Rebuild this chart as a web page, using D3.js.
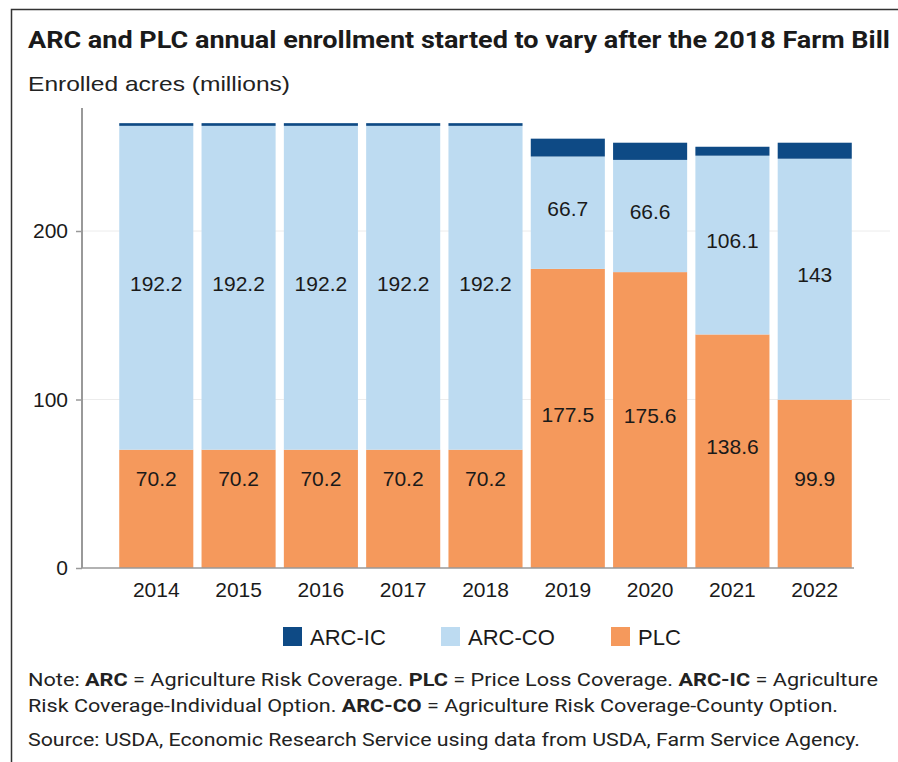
<!DOCTYPE html>
<html lang="en">
<head>
    <meta charset="UTF-8">
    <title>ARC and PLC annual enrollment</title>
    <style>
        body { margin: 0; background: #fff; }
        svg { display: block; font-family: "Liberation Sans", Arial, sans-serif; }
        .narrow { font-family: "Liberation Sans Narrow", "Roboto", "Liberation Sans", sans-serif; }
    </style>
</head>
<body>
<div id="chart"></div>
<script src="https://d3js.org/d3.v7.min.js"></script>
<script>
    // data (millions of acres)
    const years = ["2014", "2015", "2016", "2017", "2018", "2019", "2020", "2021", "2022"];
    const plc   = [70.2, 70.2, 70.2, 70.2, 70.2, 177.5, 175.6, 138.6, 99.9];
    const arcCo = [192.2, 192.2, 192.2, 192.2, 192.2, 66.7, 66.6, 106.1, 143];
    const arcIc = [1.6, 1.6, 1.6, 1.6, 1.6, 10.6, 10.2, 5.3, 9.5];
    const yTicks = [0, 100, 200];
    const seriesKeys = ["PLC", "ARC-CO", "ARC-IC"];
    const legendKeys = ["ARC-IC", "ARC-CO", "PLC"];

    const colors = {"ARC-IC": "#0e4a85", "ARC-CO": "#bddbf1", "PLC": "#f5995c"};

    const rows = years.map((yr, i) => ({year: yr, "PLC": plc[i], "ARC-CO": arcCo[i], "ARC-IC": arcIc[i]}));

    const W = 898, H = 762;
    const svg = d3.select("#chart").append("svg")
        .attr("width", W)
        .attr("height", H);

    // frame (left + top edge of the card)
    svg.append("path")
        .attr("d", "M11.5," + H + "V9.5H" + W)
        .attr("fill", "none")
        .attr("stroke", "#333")
        .attr("stroke-width", 1.5);

    svg.append("text")
        .attr("class", "narrow")
        .attr("x", 28).attr("y", 48)
        .attr("font-size", 24).attr("font-weight", "bold")
        .attr("fill", "#1a1a1a")
        .attr("textLength", 862).attr("lengthAdjust", "spacingAndGlyphs")
        .text("ARC and PLC annual enrollment started to vary after the 2018 Farm Bill");

    svg.append("text")
        .attr("x", 28).attr("y", 91)
        .attr("font-size", 21)
        .attr("fill", "#222")
        .attr("textLength", 262).attr("lengthAdjust", "spacingAndGlyphs")
        .text("Enrolled acres (millions)");

    const x = d3.scaleBand().domain(years).range([111, 860]).padding(0.1);
    const y = d3.scaleLinear().domain([0, 273]).range([568, 108]);

    // gridlines
    svg.append("g")
        .selectAll("line")
        .data(yTicks.filter(d => d > 0))
        .join("line")
        .attr("x1", 82).attr("x2", 890)
        .attr("y1", d => y(d)).attr("y2", d => y(d))
        .attr("stroke", "#ececec").attr("stroke-width", 1);

    const stack = d3.stack().keys(seriesKeys);
    const layers = stack(rows);

    const bars = svg.append("g");
    layers.forEach(layer => {
        bars.append("g")
            .attr("fill", colors[layer.key])
            .selectAll("rect")
            .data(layer)
            .join("rect")
            .attr("x", d => x(d.data.year))
            .attr("width", x.bandwidth())
            .attr("y", d => y(d[1]))
            .attr("height", d => y(d[0]) - y(d[1]));
    });

    // value labels for PLC and ARC-CO
    const minLabel = 53; // keep low labels off the baseline
    layers.filter(l => l.key !== "ARC-IC").forEach(layer => {
        svg.append("g")
            .selectAll("text")
            .data(layer)
            .join("text")
            .attr("x", d => x(d.data.year) + x.bandwidth() / 2)
            .attr("y", d => {
                let mid = (d[0] + d[1]) / 2 + 2.5;
                if (layer.key === "PLC") mid = Math.max(mid, minLabel);
                return y(mid);
            })
            .attr("dy", "0.35em")
            .attr("text-anchor", "middle")
            .attr("font-size", 21)
            .attr("fill", "#1a1a1a")
            .text(d => d.data[layer.key]);
    });

    // y axis
    const yAxis = svg.append("g")
        .attr("transform", "translate(82,0)")
        .call(d3.axisLeft(y).tickValues(yTicks).tickSize(6).tickPadding(8).tickFormat(d3.format("d")));
    yAxis.select(".domain").remove();
    yAxis.selectAll(".tick line").attr("stroke", "#999").attr("stroke-width", 1.5);
    yAxis.selectAll("text").attr("font-size", 21).attr("fill", "#1a1a1a").attr("font-family", null);
    svg.append("line")
        .attr("x1", 82).attr("x2", 82)
        .attr("y1", y.range()[1]).attr("y2", y(0))
        .attr("stroke", "#999").attr("stroke-width", 2);

    // x axis
    const xAxis = svg.append("g")
        .attr("transform", "translate(0," + y(0) + ")")
        .call(d3.axisBottom(x).tickSize(0).tickPadding(14));
    xAxis.select(".domain")
        .attr("d", "M82,0H" + (x.range()[1] - 6))
        .attr("stroke", "#999").attr("stroke-width", 1.5);
    xAxis.selectAll("text").attr("font-size", 21).attr("fill", "#1a1a1a").attr("font-family", null);

    // legend
    const legendX = [283, 441, 611];
    const legend = svg.append("g").attr("transform", "translate(0,627)");
    legendKeys.forEach((k, i) => {
        const g = legend.append("g").attr("transform", "translate(" + legendX[i] + ",0)");
        g.append("rect").attr("width", 19).attr("height", 19).attr("fill", colors[k]);
        g.append("text").attr("x", 27).attr("y", 18)
            .attr("font-size", 22).attr("fill", "#1a1a1a").text(k);
    });

    // notes
    const noteLines = [
        {y: 686, len: 850, parts: [["Note: ", 0], ["ARC", 1], [" = Agriculture Risk Coverage. ", 0], ["PLC", 1], [" = Price Loss Coverage. ", 0], ["ARC-IC", 1], [" = Agriculture", 0]]},
        {y: 712, len: 810, parts: [["Risk Coverage-Individual Option. ", 0], ["ARC-CO", 1], [" = Agriculture Risk Coverage-County Option.", 0]]},
        {y: 746, len: 832, parts: [["Source: USDA, Economic Research Service using data from USDA, Farm Service Agency.", 0]]}
    ];
    noteLines.forEach(line => {
        const t = svg.append("text")
            .attr("class", "narrow")
            .attr("x", 28).attr("y", line.y)
            .attr("font-size", 18).attr("fill", "#222")
            .attr("textLength", line.len).attr("lengthAdjust", "spacingAndGlyphs")
            .attr("xml:space", "preserve");
        line.parts.forEach(p => {
            t.append("tspan").attr("font-weight", p[1] ? "bold" : "normal").text(p[0]);
        });
    });
</script>
</body>
</html>
